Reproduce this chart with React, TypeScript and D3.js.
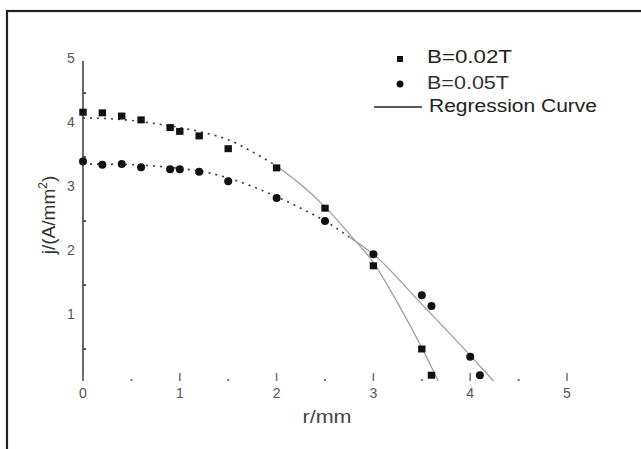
import React from "react";
import * as d3 from "d3";

// ---- data ----
const sqR = [0, 0.2, 0.4, 0.6, 0.9, 1.0, 1.2, 1.5, 2.0, 2.5, 3.0, 3.5, 3.6];
const sqJ = [4.2, 4.19, 4.14, 4.08, 3.96, 3.9, 3.83, 3.63, 3.33, 2.7, 1.8, 0.5, 0.09];

const ciR = [0, 0.2, 0.4, 0.6, 0.9, 1.0, 1.2, 1.5, 2.0, 2.5, 3.0, 3.5, 3.6, 4.0, 4.1];
const ciJ = [3.43, 3.38, 3.39, 3.34, 3.31, 3.31, 3.27, 3.12, 2.86, 2.5, 1.98, 1.34, 1.17, 0.38, 0.09];

// regression curves
const fitSqR = [0, 0.25, 0.5, 0.75, 1, 1.25, 1.5, 1.75, 2, 2.25, 2.5, 2.75, 3, 3.25, 3.5, 3.67];
const fitSqJ = [4.11, 4.1, 4.07, 4.02, 3.96, 3.88, 3.77, 3.58, 3.36, 3.07, 2.72, 2.3, 1.85, 1.22, 0.52, 0];
const fitSqSplit = 2.0;

const fitCiR = [0, 0.5, 1, 1.25, 1.5, 1.75, 2, 2.25, 2.5, 2.75, 3, 3.5, 4, 4.24];
const fitCiJ = [3.39, 3.38, 3.32, 3.27, 3.17, 3.04, 2.88, 2.7, 2.5, 2.25, 1.98, 1.2, 0.4, 0];
const fitCiSplit = 2.75;

const xTicks = [0, 1, 2, 3, 4, 5];
const xMinor = [0.5, 1.5, 2.5, 3.5, 4.5];
const yTicks = [1, 2, 3, 4, 5];
const yMinor = [0.5, 1.5, 2.5, 3.5, 4.5];

const legendLabels = ["B=0.02T", "B=0.05T", "Regression Curve"];
const xTitle = "r/mm";

const FONT = "'Liberation Sans', Arial, sans-serif";

export default function App() {
  const W = 641;
  const H = 449;
  const x = d3.scaleLinear().domain([0, 5]).range([83, 567]);
  const y = d3.scaleLinear().domain([0, 5]).range([381, 61]);

  const line = d3
    .line<[number, number]>()
    .x((d) => x(d[0]))
    .y((d) => y(d[1]))
    .curve(d3.curveMonotoneX);

  const sqFit: [number, number][] = fitSqR.map((r, i) => [r, fitSqJ[i]]);
  const ciFit: [number, number][] = fitCiR.map((r, i) => [r, fitCiJ[i]]);

  const parts = (pts: [number, number][], split: number) => ({
    a: pts.filter((p) => p[0] <= split),
    b: pts.filter((p) => p[0] >= split),
  });
  const sqP = parts(sqFit, fitSqSplit);
  const ciP = parts(ciFit, fitCiSplit);

  const dotted = { fill: "none", stroke: "#3a3a3a", strokeWidth: 1.6, strokeDasharray: "2,5" };
  const solid = { fill: "none", stroke: "#9a9a9a", strokeWidth: 1.2 };

  return (
    <svg
      width={W}
      height={H}
      style={{ position: "absolute", left: 0, top: 0, background: "#fff" }}
      fontFamily={FONT}
    >
      <rect x={0} y={0} width={W} height={H} fill="#fff" />
      {/* frame */}
      <rect x={7} y={11} width={W + 20} height={H + 20} fill="none" stroke="#222" strokeWidth={2.2} />

      {/* y axis */}
      <line x1={x(0)} x2={x(0)} y1={y(5)} y2={y(0)} stroke="#444" strokeWidth={1.6} />
      {yMinor.map((v) => (
        <line key={"ym" + v} x1={x(0)} x2={x(0) + 3} y1={y(v)} y2={y(v)} stroke="#333" strokeWidth={1.6} />
      ))}
      {yTicks.map((v) => (
        <text key={"yt" + v} x={71} y={y(v) + 2} fontSize={14} fill="#555" textAnchor="middle">
          {v}
        </text>
      ))}

      {/* x ticks (no axis line) */}
      {xTicks.map((v) => (
        <line key={"xt" + v} x1={x(v)} x2={x(v)} y1={373} y2={381} stroke="#777" strokeWidth={1.6} />
      ))}
      {xMinor.map((v) => (
        <rect key={"xm" + v} x={x(v) - 1} y={379} width={2} height={2} fill="#777" />
      ))}
      {xTicks.map((v) => (
        <text key={"xl" + v} x={x(v)} y={398} fontSize={14} fill="#555" textAnchor="middle">
          {v}
        </text>
      ))}

      {/* axis titles */}
      <text x={327} y={423} fontSize={19} fill="#444" textAnchor="middle" textLength={49} lengthAdjust="spacingAndGlyphs">
        {xTitle}
      </text>
      <text transform="translate(55,215) rotate(-90)" fontSize={19} fill="#333" textAnchor="middle">
        j/(A/mm<tspan fontSize={12} dy={-8}>2</tspan>
        <tspan dy={8}>)</tspan>
      </text>

      {/* regression curves */}
      <path d={line(sqP.a) || ""} {...dotted} />
      <path d={line(sqP.b) || ""} {...solid} />
      <path d={line(ciP.a) || ""} {...dotted} />
      <path d={line(ciP.b) || ""} {...solid} />

      {/* markers */}
      {sqR.map((r, i) => (
        <rect key={"s" + i} x={x(r) - 3.7} y={y(sqJ[i]) - 3.5} width={7.4} height={7} fill="#111" />
      ))}
      {ciR.map((r, i) => (
        <circle key={"c" + i} cx={x(r)} cy={y(ciJ[i])} r={4} fill="#111" />
      ))}

      {/* legend */}
      <rect x={397} y={56} width={6} height={6} fill="#111" />
      <text x={427} y={63} fontSize={18} fill="#222" textLength={85} lengthAdjust="spacingAndGlyphs">
        {legendLabels[0]}
      </text>
      <circle cx={400} cy={84} r={3.5} fill="#111" />
      <text x={427} y={89} fontSize={18} fill="#333" textLength={82} lengthAdjust="spacingAndGlyphs">
        {legendLabels[1]}
      </text>
      <line x1={374} x2={422} y1={107} y2={107} stroke="#222" strokeWidth={1.6} />
      <text x={429} y={112} fontSize={18} fill="#222" textLength={168} lengthAdjust="spacingAndGlyphs">
        {legendLabels[2]}
      </text>
    </svg>
  );
}
